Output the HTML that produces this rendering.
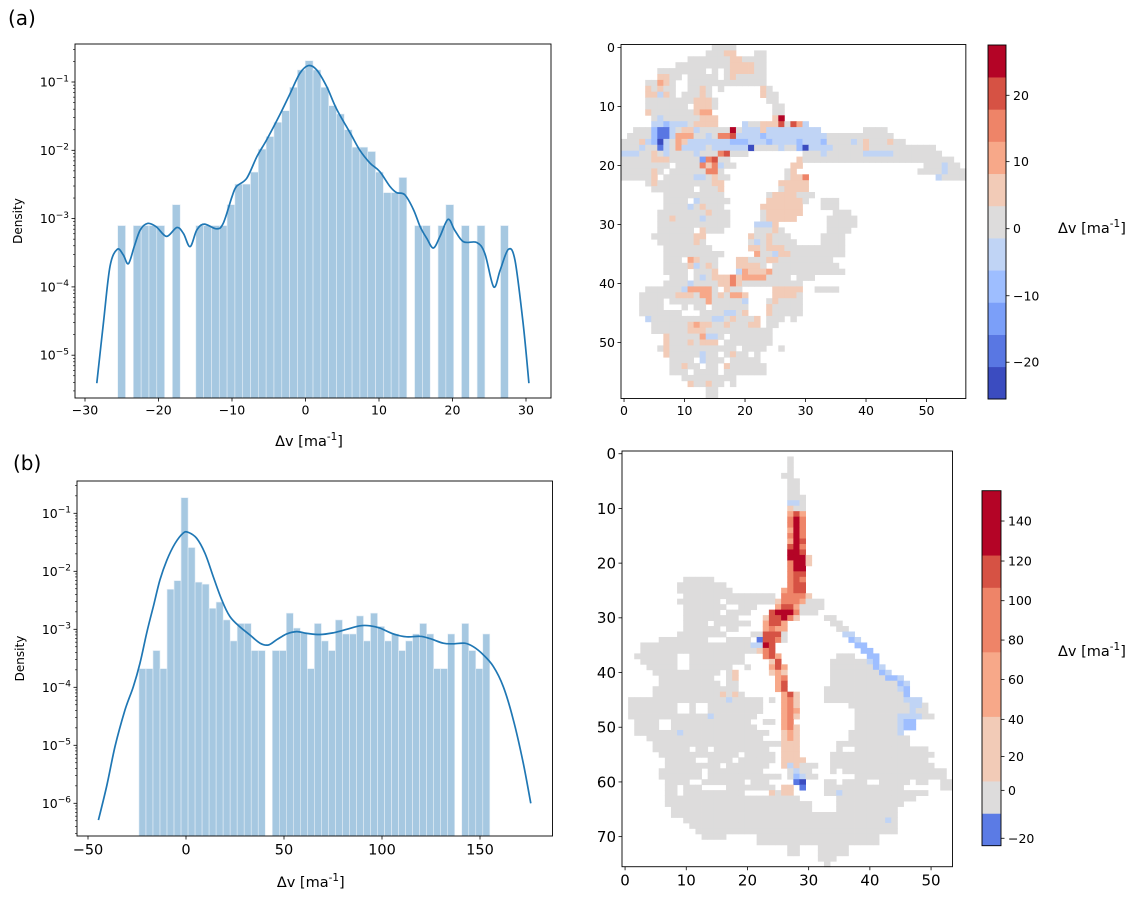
<!DOCTYPE html>
<html><head><meta charset="utf-8"><title>Velocity difference figure</title>
<style>
html,body{margin:0;padding:0;background:#fff;}
svg{display:block;font-family:"DejaVu Sans","Liberation Sans",sans-serif;}
</style></head>
<body>
<svg id="fig" width="1143" height="899" viewBox="0 0 1143 899" xmlns="http://www.w3.org/2000/svg">
<text x="8" y="25" font-size="20" fill="#000">(a)</text>
<text x="13" y="470" font-size="20" fill="#000">(b)</text>
</svg>
<script>
// ===== Panel (a) histogram data =====
const histABinStart = -25.55;
const histABinWidth = 1.063;
const histADensity = [7.9e-4,0,7.9e-4,7.9e-4,7.9e-4,7.9e-4,0,1.6e-3,0,0,
 7.9e-4,7.9e-4,7.9e-4,7.9e-4,1.6e-3,3.2e-3,3.2e-3,4.8e-3,0.0104,0.0159,
 0.0257,0.038,0.0836,0.150,0.205,0.150,0.0836,0.045,0.034,0.020,
 0.0111,0.0111,0.0096,4.8e-3,2.4e-3,2.4e-3,4.0e-3,0,7.9e-4,7.9e-4,
 0,7.9e-4,1.6e-3,0,7.9e-4,0,7.9e-4,0,0,7.9e-4];
const kdeAX = [-28.4,-27.5,-26.6,-25.6,-24.8,-24.1,-23.3,-22.5,-21.5,-20.3,-18.9,-17.5,-16.6,-15.7,-14.8,-13.8,-12.1,-11.2,-10.0,-9.4,-8.0,-6.6,-5.3,-3.5,-2.1,-0.75,0.4,1.5,2.9,4.2,6.1,7.4,8.8,10.1,11.5,12.4,13.5,14.7,15.6,16.5,17.4,18.3,19.4,20.3,21.5,23.3,24.4,25.6,26.5,27.6,28.5,29.6,30.4];
const kdeALog10 = [-5.41,-4.53,-3.70,-3.45,-3.53,-3.66,-3.41,-3.17,-3.07,-3.12,-3.26,-3.13,-3.22,-3.41,-3.17,-3.08,-3.15,-3.07,-2.68,-2.53,-2.41,-2.09,-1.85,-1.48,-1.17,-0.87,-0.76,-0.82,-1.07,-1.39,-1.75,-2.00,-2.19,-2.31,-2.53,-2.62,-2.65,-2.87,-3.12,-3.29,-3.43,-3.26,-3.01,-3.17,-3.34,-3.35,-3.51,-4.00,-3.75,-3.45,-3.61,-4.53,-5.41];
const histAXTicks = [-30,-20,-10,0,10,20,30];
const histAYTicks = [-1,-2,-3,-4,-5];

// ===== Panel (b) histogram data =====
const histBBinStart = -24.0;
const histBBinWidth = 3.58;
const histBDensity = [2.1e-4,2.1e-4,4.3e-4,2.1e-4,4.9e-3,6.9e-3,0.186,0.0257,6.5e-3,6.0e-3,
 2.3e-3,2.95e-3,1.45e-3,6.3e-4,1.26e-3,1.26e-3,4.3e-4,4.3e-4,0,4.3e-4,
 4.3e-4,1.9e-3,1.05e-3,8.9e-4,2.1e-4,1.26e-3,6.3e-4,4.3e-4,1.45e-3,8.3e-4,
 8.3e-4,1.7e-3,6.3e-4,1.9e-3,1.12e-3,6.3e-4,8.3e-4,4.3e-4,6.3e-4,8.3e-4,
 1.26e-3,8.3e-4,2.1e-4,2.1e-4,8.3e-4,0,1.26e-3,4.3e-4,2.1e-4,8.3e-4];
const kdeBX = [-44.7,-40.5,-36.2,-31.1,-26.9,-23.5,-20.1,-16.7,-13.3,-9.8,-5.6,-1.4,1.2,5.4,9.7,13.9,18.2,22.4,27.6,32.7,37.8,42.0,46.3,51.4,56.5,61.6,68.4,75.2,82.0,88.8,93.9,99.0,105.8,112.6,119.4,124.5,131.3,136.4,142.3,146.6,151.7,156.8,161.9,167.0,172.1,175.9];
const kdeBLog10 = [-6.29,-5.71,-5.02,-4.39,-3.99,-3.59,-3.07,-2.61,-2.15,-1.81,-1.52,-1.34,-1.33,-1.43,-1.69,-2.09,-2.49,-2.78,-2.96,-3.10,-3.24,-3.27,-3.18,-3.08,-3.04,-3.07,-3.09,-3.06,-3.00,-2.94,-2.94,-2.98,-3.08,-3.13,-3.12,-3.16,-3.24,-3.25,-3.24,-3.30,-3.44,-3.64,-3.99,-4.56,-5.31,-6.00];
const histBXTicks = [-50,0,50,100,150];
const histBYTicks = [-1,-2,-3,-4,-5,-6];

// ===== Heatmap (a) data: "startCol:codes" segments per row =====
const heatACodeValues = {E:-23,D:-18,C:-13,B:-9,A:-4,'0':1,a:5,b:10,c:15,d:20,e:25};
const heatARows = [
"15:0000","14:000aa 22:00","11:0000000aa0000","9:000000000aaaa00","6:00000000.0.0aaaa00",
"6:aa00.00000.0a00000","4:00ba0..0000000000000","4:a0a00..00a0.0......a0","4:aaAa0.000a0........a00","4:00000000aaa0........00",
"4:0000000.aaa0.........00","4:a0000000abb..........00","5:0A000000aaa.........ae","5:AABAAA0aaaa....A00aaad0dbA","2:000BDDA0aaA00000e0AAAaAAAAAAAAA.......0000",
"1:0000BDDAbbb00A0ccdAAAABAAAAAAAAAA00000000000","0:000aABEA0baAAAAAAABBBAAABAAAABAAAB0000A0a000a00","0:000A00DA0bAAAA0AAAAAAE0000A00BEAAAA00000a00000000000","0:AAA00a0A0000A000cd000.........000A000000AAAAA00000000","0:00000aaa00000Ccd00...........a0000000000000000000000000",
"0:00000000.0000cacA00.........aa....................000A00","0:00000a0.000000cc0..........0a....................0000A000","0:00000a.00000AA0a00.........0aac.....................A0000","4:0a000000000aa.........aaaaa","5:0000000.000a.........0aaaa",
"7:0000000000.......0aaaa000","7:0000.A00000......aaaaaa0..000","7:0000A0a000......aaaaaaa...000","6:00000000a000.....0aaaaaa.....000","6:00a0000A0000.....0aaaaa.....00000",
"6:000000000000....AAAa........00000","6:000000.a000.....000a0.......0000","5:0000000aa.......a00a000.....0000","6:000000a0.......0A0a0000....0000","7:00000000......aa0aaa0000000000",
"7:0000000000.....b00Aaa000000000","7:000.ba000...aa000aa000000000","7:0000aA0a0...aaaa0.00000000000","7:0000.000a...Abaaab000000000000","8:000.0A0aaacabbbb0000.000",
"7:0000A0000aaca0000000000","4:000000Abbbb0.a00.....aaaaa..0000","3:000000aaa0bb0a0bba....aaaa0","3:0000.000000b00000A...0a0000","3:0000...0.00.000000...a00000",
"3:0000000...0000AA0a...a00000","4:A0000000000AA0a000a.000.0","5:000000abaa00a000aa.00","5:000000aaa00000000000","7:a00000bAA0.0000000",
"7:a000a0aaa.00000000","6:0a00000000000.0000..0","7:a00000A00.0a00.0","8:0000.A000.00000","8:00a00.00.a000000",
"8:000.0000.0000000","10:000000000","11:a00a00.0","14:00","14:00"];

// ===== Heatmap (b) data =====
const heatBCodeValues = {E:-23,D:-18,B:-9,A:-4,'0':0,a:30,b:65,c:95,d:115,e:145};
const heatBRows = [
"","27:0","27:0","27:0","26:00","27:00","27:00","27:00","27:000","27:AA0",
"27:a00","27:bdb","27:cec","27:cec","27:bec","27:cec","27:bed","27:dec","27:eed","27:eeea",
"27:ceea","27:cee","27:cdd","10:00000 27:cdc","9:00000000 27:cdd","9:000000000 26:bcdd","10:00000000000 21:0000 26:cccca","9:0000000 17:00000000 25:acccb000","10:0000000 19:000 25:bddb0000","10:000000 17:0000 24:deeec000",
"10:000000000 23:addeca 33:00","10:0000 15:000000 23:bddb 34:00","10:000000 17:00 23:bcbb 35:00","9:0000 13:0000 21:00ddd0 36:AA","6:00000000 17:0000 22:Dddc0 37:BA","3:000000000000000000 21:AAed 38:BB","3:0000000000000000000 22:acd 39:BB","2:0000000 11:000000000 23:cdb 35:000 40:BB","3:000000 11:000000000 24:ad 34:000000AB","4:00000 11:0000000 20:0 24:bdb 34:0000000BA",
"5:00000000000 17:0a 24:aba 34:00000000BA","6:000000000 17:0a 25:bc 34:000000000BBA","6:0000000000 17:00 25:bd 34:00000000000BA","5:00000000000000 25:bd 33:000000000000AB","5:000000000000000 16:a0a 26:bda 33:0000000000000B","1:0000000000000000000000 17:A 24:0 26:bca 33:0000000000000AAA","1:00000000 11:0 14:000000000 26:bca 37:0000000000AA0","1:00000000 11:0 14:000000000 26:bcb 38:000000000A00","1:000000000000000000000 14:A 26:bca 38:0000000AAAA00","2:0000 8:0000000000000 23:00 26:bc 38:0000000ABB",
"2:0000 8:00000000000000 26:bca 38:0000000ABB","2:0000000000000000000000 9:A 26:aba 37:00000000A","4:0000000000000000000 26:aba 37:0000000000","5:0000000000000000000 24:00aaa 35:000000000000","5:000000 12:00 15:000000000 26:aaa 35:0 38:0000 42:00000000","6:0000000000000 20:00000 26:aaa 34:00000000000000000","7:00000 14:0000 19:000000 26:aaaa 34:0000000000000000","7:0000000 14:00 17:0000000 26:aAa 29:000 34:00000000000000000","6:0000000 14:00000 19:0000 27:0A 29:00 34:0 36:00000000000000000","6:0000000 14:000000000000 27:0BA 30:00 38:000000000000000",
"7:0000 13:0000000 21:000 28:DE 33:00 36:0000 42:0000 46:0 48:00 52:00","7:00 10:000 17:00000000 26:aa 29:D 33:0000000000000 52:00","7:00 10:0000000000 24:a0aa 33:00A00000000000000","7:0000000000000000000000 35:0000000000000","7:000000000000000000000000 35:00000000000","8:00000000000000000000000 35:0000000000","8:0000000000000000000000000000000000000","10:00000000000000000000000000000000000 43:A","11:0000000000000000000000000000000000","12:000000000000000000000000000000000",
"13:0000 22:00000000000000000000","22:00000000000000000000","27:00 32:00000","27:00 32:00000","32:000","33:0"];

// ===== Colorbars =====
const cbABounds = [-25.5,-20.7,-15.8,-11.0,-6.2,-1.4,3.4,8.2,13.0,17.9,22.7,27.5];
const cbAColors = ['#3b4cc0','#5977e3','#7b9ff9','#9ebeff','#c0d4f5','#dddcdc','#f2cbb7','#f7a889','#ee8468','#d65244','#b40426'];
const cbATicks = [-20,-10,0,10,20];
const cbBBounds = [-22.9,-10.3,4.1,25,41.4,57.6,73.9,90.3,106.7,122.9,139,155.5];
const cbBColors = ['#5b7be5','#dddcdc','#f2cbb7','#f2cbb7','#f7a889','#f7a889','#ee8468','#ee8468','#d65244','#b40426','#b40426'];
const cbBTicks = [-20,0,20,40,60,80,100,120,140];

const NS = 'http://www.w3.org/2000/svg';
const svg = document.getElementById('fig');
function mk(tag, attrs, parent){
  const e = document.createElementNS(NS, tag);
  for (const k in attrs) e.setAttribute(k, attrs[k]);
  (parent||svg).appendChild(e);
  return e;
}
function bandColor(bounds, colors, v){
  for (let i=0;i<colors.length;i++){ if (v < bounds[i+1]) return colors[i]; }
  return colors[colors.length-1];
}
function supText(parent, x, y, base, sup, size, anchor){
  const t = mk('text', {x:x, y:y, 'font-size':size, 'text-anchor':anchor||'end', fill:'#000'}, parent);
  t.appendChild(document.createTextNode(base));
  const s = mk('tspan', {dy:-size*0.42, 'font-size':size*0.72}, t);
  s.textContent = sup;
  return t;
}
function smoothPath(pts){
  let d = 'M' + pts[0][0].toFixed(1) + ' ' + pts[0][1].toFixed(1);
  for (let i=0;i<pts.length-1;i++){
    const p0 = pts[Math.max(0,i-1)], p1 = pts[i], p2 = pts[i+1], p3 = pts[Math.min(pts.length-1,i+2)];
    const c1x = p1[0] + (p2[0]-p0[0])/6, c1y = p1[1] + (p2[1]-p0[1])/6;
    const c2x = p2[0] - (p3[0]-p1[0])/6, c2y = p2[1] - (p3[1]-p1[1])/6;
    d += 'C' + c1x.toFixed(1)+' '+c1y.toFixed(1)+' '+c2x.toFixed(1)+' '+c2y.toFixed(1)+' '+p2[0].toFixed(1)+' '+p2[1].toFixed(1);
  }
  return d;
}

// ---------- histogram drawer ----------
function drawHist(cfg){
  const g = mk('g', {});
  
  
  const xS = v => cfg.x0 + cfg.kx * v;
  const yS = lg => cfg.y0 - (lg + 1) * cfg.ky;
  cfg.dens.forEach((d,i)=>{
    if (!(d > 0)) return;
    const xl = xS(cfg.binStart + i*cfg.binWidth), xr = xS(cfg.binStart + (i+1)*cfg.binWidth);
    const yt = yS(Math.log10(d));
    const r = mk('rect', {x:xl, y:yt, width:xr-xl, height:cfg.bottom-yt, fill:'#a6c8e1', stroke:'#e6eff7', 'stroke-width':0.6}, g);
    
    
  });
  const pts = cfg.kx_.map((v,i)=>[xS(v), yS(cfg.klog[i])]);
  const p = mk('path', {d:smoothPath(pts), fill:'none', stroke:'#1f77b4', 'stroke-width':1.7, 'stroke-linejoin':'round'}, g);
  
  
  const fr = mk('rect', {x:cfg.left, y:cfg.top, width:cfg.right-cfg.left, height:cfg.bottom-cfg.top, fill:'none', stroke:'#000', 'stroke-width':0.9}, g);
  
  
  cfg.xticks.forEach(v=>{
    const x = xS(v);
    mk('line', {x1:x, x2:x, y1:cfg.bottom, y2:cfg.bottom+3.5, stroke:'#000', 'stroke-width':0.8}, g);
    const t = mk('text', {x:x, y:cfg.bottom+cfg.xfs+4, 'font-size':cfg.xfs, 'text-anchor':'middle', fill:'#000'}, g);
    t.textContent = (v<0?'\u2212':'') + Math.abs(v);
    
    
  });
  cfg.yticks.forEach(e=>{
    const y = yS(e);
    mk('line', {x1:cfg.left-3.5, x2:cfg.left, y1:y, y2:y, stroke:'#000', 'stroke-width':0.8}, g);
    const t = supText(g, cfg.left-6, y+4.5, '10', '\u2212'+Math.abs(e), 12.5, 'end');
    
    
  });
  const lo = Math.floor(cfg.ymin), hi = Math.ceil(cfg.ymax);
  for (let e=lo; e<hi; e++){
    for (let k=2;k<=9;k++){
      const lg = e + Math.log10(k);
      if (lg < cfg.ymin || lg > cfg.ymax) continue;
      const y = yS(lg);
      mk('line', {x1:cfg.left-2, x2:cfg.left, y1:y, y2:y, stroke:'#000', 'stroke-width':0.6}, g);
    }
  }
  const yl = mk('text', {x:0, y:0, 'font-size':12, 'text-anchor':'middle', transform:`translate(${cfg.left-53},${(cfg.top+cfg.bottom)/2}) rotate(-90)`, fill:'#000'}, g);
  yl.textContent = 'Density';
  
  
  const xl = supText(g, (cfg.left+cfg.right)/2 - 4, cfg.xlabelY, '\u0394v [ma', '-1', 14.5, 'middle');
  const close = mk('tspan', {dy:14.5*0.42, 'font-size':14.5}, xl);
  close.textContent = ']';
  
  
}

drawHist({name:'histogram-a', left:75, right:551, top:44, bottom:398, x0:305.5, kx:7.35, y0:82, ky:68.3,
  binStart:histABinStart, binWidth:histABinWidth, dens:histADensity, kx_:kdeAX, klog:kdeALog10,
  xticks:histAXTicks, yticks:histAYTicks, ymin:-5.63, ymax:-0.44, xfs:12.5, xlabelY:446});
drawHist({name:'histogram-b', left:77, right:552.5, top:481, bottom:836, x0:186, kx:1.96, y0:513.3, ky:58,
  binStart:histBBinStart, binWidth:histBBinWidth, dens:histBDensity, kx_:kdeBX, klog:kdeBLog10,
  xticks:histBXTicks, yticks:histBYTicks, ymin:-6.56, ymax:-0.44, xfs:14.5, xlabelY:887});

// ---------- heatmap drawer ----------
function drawHeat(cfg){
  const g = mk('g', {});
  
  
  cfg.rows.forEach((row, r)=>{
    const cells = {};
    row.split(' ').filter(s=>s).forEach(seg=>{
      const [c0, codes] = seg.split(':');
      for (let i=0;i<codes.length;i++){ if (codes[i] !== '.') cells[+c0+i] = codes[i]; else delete cells[+c0+i]; }
    });
    Object.keys(cells).forEach(c=>{
      const v = cfg.codeValues[cells[c]];
      const rc = mk('rect', {x:(cfg.left + c*cfg.cw).toFixed(2), y:(cfg.top + r*cfg.rh).toFixed(2), width:(cfg.cw+0.4).toFixed(2), height:(cfg.rh+0.4).toFixed(2), fill:cfg.color(v)}, g);
      
      
    });
  });
  const fr = mk('rect', {x:cfg.left, y:cfg.top, width:cfg.ncol*cfg.cw, height:cfg.nrow*cfg.rh, fill:'none', stroke:'#000', 'stroke-width':0.9}, g);
  
  
  const bottom = cfg.top + cfg.nrow*cfg.rh;
  cfg.xticks.forEach(v=>{
    const x = cfg.left + (v+0.5)*cfg.cw;
    mk('line', {x1:x, x2:x, y1:bottom, y2:bottom+3.5, stroke:'#000', 'stroke-width':0.8}, g);
    const t = mk('text', {x:x, y:bottom+cfg.fs+4, 'font-size':cfg.fs, 'text-anchor':'middle', fill:'#000'}, g);
    t.textContent = v;
    
    
  });
  cfg.yticks.forEach(v=>{
    const y = cfg.top + (v+0.5)*cfg.rh;
    mk('line', {x1:cfg.left-3.5, x2:cfg.left, y1:y, y2:y, stroke:'#000', 'stroke-width':0.8}, g);
    const t = mk('text', {x:cfg.left-6, y:y+cfg.fs*0.36, 'font-size':cfg.fs, 'text-anchor':'end', fill:'#000'}, g);
    t.textContent = v;
    
    
  });
}
const colorA = v => bandColor(cbABounds, cbAColors, v);
const colorB = v => v < -1.4 ? colorA(v) : bandColor(cbBBounds, cbBColors, v);
drawHeat({name:'heatmap-a', rows:heatARows, codeValues:heatACodeValues, color:colorA, left:621, top:44.5, cw:6.05, rh:5.9, ncol:57, nrow:60,
  xticks:[0,10,20,30,40,50], yticks:[0,10,20,30,40,50], fs:12.5});
drawHeat({name:'heatmap-b', rows:heatBRows, codeValues:heatBCodeValues, color:colorB, left:622, top:451, cw:6.12, rh:5.47, ncol:54, nrow:76,
  xticks:[0,10,20,30,40,50], yticks:[0,10,20,30,40,50,60,70], fs:15});

// ---------- colorbar drawer ----------
function drawCbar(cfg){
  const g = mk('g', {});
  
  
  const n = cfg.colors.length, bh = (cfg.bottom-cfg.top)/n;
  cfg.colors.forEach((c,i)=>{
    const r = mk('rect', {x:cfg.left, y:cfg.bottom-(i+1)*bh, width:cfg.w, height:bh+0.3, fill:c}, g);
    
    
  });
  mk('rect', {x:cfg.left, y:cfg.top, width:cfg.w, height:cfg.bottom-cfg.top, fill:'none', stroke:'#000', 'stroke-width':0.9}, g);
  const pos = v => {
    for (let i=0;i<n;i++){ if (v <= cfg.bounds[i+1]) return cfg.bottom - (i + (v-cfg.bounds[i])/(cfg.bounds[i+1]-cfg.bounds[i]))*bh; }
    return cfg.top;
  };
  cfg.ticks.forEach(v=>{
    const y = pos(v);
    mk('line', {x1:cfg.left+cfg.w, x2:cfg.left+cfg.w+3.5, y1:y, y2:y, stroke:'#000', 'stroke-width':0.8}, g);
    const t = mk('text', {x:cfg.left+cfg.w+7, y:y+cfg.fs*0.36, 'font-size':cfg.fs, fill:'#000'}, g);
    t.textContent = (v<0?'\u2212':'') + Math.abs(v);
    
    
  });
  const lab = supText(g, 1058, cfg.labelY, '\u0394v [ma', '-1', 14.5, 'start');
  const close = mk('tspan', {dy:14.5*0.42, 'font-size':14.5}, lab);
  close.textContent = ']';
  
  
}
drawCbar({name:'colorbar-a', left:988, w:18, top:45, bottom:399, colors:cbAColors, bounds:cbABounds, ticks:cbATicks, fs:12.5, labelY:233});
drawCbar({name:'colorbar-b', left:982, w:19, top:490.7, bottom:845.7, colors:cbBColors, bounds:cbBBounds, ticks:cbBTicks, fs:12.5, labelY:656});
</script>
</body></html>
